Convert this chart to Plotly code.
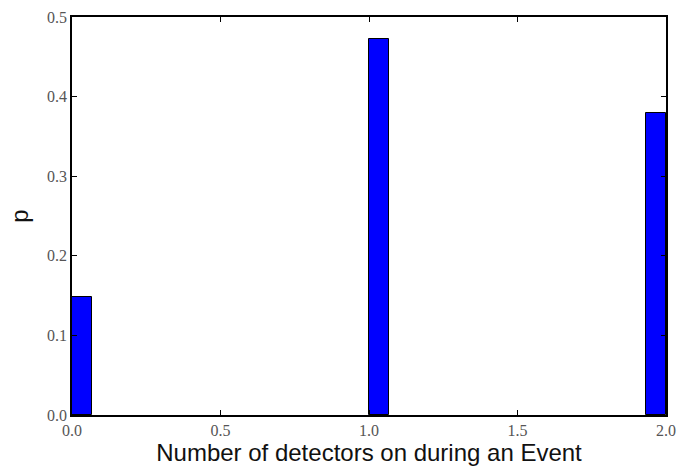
import plotly.graph_objects as go

# data
bin_starts = [0.0, 1.0, 1.9333]
probabilities = [0.148, 0.472, 0.379]
bin_width = 2 / 30
x_ticks = [0.0, 0.5, 1.0, 1.5, 2.0]
x_tick_labels = ["0.0", "0.5", "1.0", "1.5", "2.0"]
y_ticks = [0.0, 0.1, 0.2, 0.3, 0.4, 0.5]
y_tick_labels = ["0.0", "0.1", "0.2", "0.3", "0.4", "0.5"]

fig = go.Figure()
fig.add_trace(go.Bar(
    x=bin_starts, y=probabilities, width=[bin_width] * len(bin_starts), offset=0,
    marker=dict(color="#0000ff", line=dict(color="#000000", width=1)),
))

tick_font = dict(family="Liberation Serif, DejaVu Serif, serif", size=16, color="#555555")
title_font = dict(family="Liberation Sans, Arial, sans-serif", size=24, color="#111111")
axis_common = dict(
    showgrid=False, zeroline=False, showline=True, linecolor="#000000", linewidth=1.5,
    mirror="allticks", ticks="inside", ticklen=5, tickcolor="#000000", tickwidth=1,
    tickfont=tick_font, automargin=False,
)
fig.update_layout(
    width=680, height=470,
    margin=dict(l=72, r=14, t=17, b=55),
    plot_bgcolor="white", paper_bgcolor="white",
    showlegend=False, bargap=0,
    xaxis=dict(range=[0, 2], tickvals=x_ticks, ticktext=x_tick_labels,
               title=dict(text="Number of detectors on during an Event",
                          font=title_font, standoff=3),
               **axis_common),
    yaxis=dict(range=[0, 0.5], tickvals=y_ticks, ticktext=y_tick_labels,
               title=dict(text="p", font=title_font, standoff=12),
               **axis_common),
)
fig.write_html("out.html", config={"displayModeBar": False},
               post_script="document.body.style.margin='0';document.body.style.overflow='hidden';")
